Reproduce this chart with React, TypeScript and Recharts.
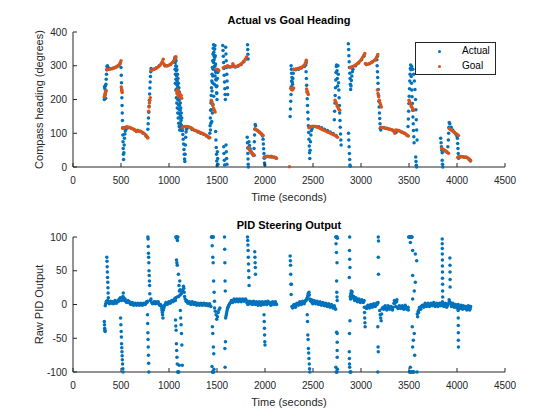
import React from 'react';
import { ScatterChart, Scatter, XAxis, YAxis } from 'recharts';

const AXIS = '#262626';
const BLUE = '#0072BD';
const ORANGE = '#D95319';

const timeTicks = [0, 500, 1000, 1500, 2000, 2500, 3000, 3500, 4000, 4500];
const headingTicks = [0, 100, 200, 300, 400];
const pidTicks = [-100, -50, 0, 50, 100];

// [time (s), heading (deg)]
const actualHeading: [number, number][] = [
  [326,200],[328,238],[330,207],[332,232],[334,214],[336,240],[338,222],[340,204],[343,245],
  [346,260],[349,275],[352,288],[355,298],[358,300],
  [370,294],[390,291],[410,292],[430,294],[450,296],[470,300],[490,306],
  [500,295],[503,272],[505,250],[507,228],[509,205],[511,182],[513,160],[515,138],[517,116],[519,95],[521,75],[523,55],[525,38],[527,22],
  [530,42],[533,65],[536,85],[540,98],[545,107],[552,112],
  [580,116],[610,114],[640,110],[670,107],[700,105],[730,100],[760,92],[775,88],
  [780,112],[783,128],[786,145],[789,162],[792,180],[795,198],[798,216],[801,234],[804,252],[807,268],[810,282],[813,292],
  [840,290],[870,294],[900,301],[930,310],[955,301],[985,300],[1015,304],[1045,312],[1060,320],
  [1062,325],[1065,310],[1068,322],[1070,300],[1073,315],[1075,285],[1078,298],[1080,270],[1083,288],[1085,255],[1088,275],[1090,240],[1093,262],[1095,228],[1098,248],[1100,212],[1103,235],[1105,198],[1108,222],[1110,182],[1113,205],[1115,168],[1118,190],[1120,152],[1123,175],[1125,138],[1128,160],[1130,124],[1133,145],[1136,115],
  [1058,318],[1063,290],[1067,275],[1072,260],[1077,245],[1082,232],[1087,218],[1092,200],[1097,185],[1102,172],[1107,158],[1112,145],[1117,130],[1122,118],[1127,108],
  [1066,248],[1071,228],[1076,205],[1081,190],[1086,175],[1091,160],[1096,145],[1101,130],[1106,120],[1111,110],
  [1140,108],[1144,96],[1148,82],[1152,68],[1156,52],[1159,38],[1162,24],[1165,16],[1168,38],[1171,65],[1174,88],[1178,104],[1183,112],
  [1210,117],[1240,111],[1270,108],[1300,104],[1330,100],[1360,97],[1390,92],[1415,87],
  [1425,100],[1428,122],[1431,145],[1434,168],[1437,190],[1440,212],[1443,235],[1446,255],[1449,275],[1452,295],[1455,315],[1458,335],[1461,352],[1464,362],[1467,340],[1470,318],[1473,298],[1476,350],[1479,360],[1482,330],[1485,305],[1488,280],[1491,258],[1494,238],[1497,218],[1500,200],
  [1432,110],[1436,130],[1440,170],[1444,195],[1448,225],[1452,250],[1456,270],[1460,290],[1464,310],[1468,330],[1472,350],[1476,325],[1480,300],[1484,285],[1488,260],[1492,240],[1496,220],[1500,240],[1504,262],[1508,280],
  [1445,135],[1452,160],[1458,185],[1466,210],[1472,245],[1480,270],[1486,105],[1489,80],[1492,58],[1495,38],[1498,18],[1501,4],[1504,45],[1507,25],[1510,8],
  [1560,360],[1563,345],[1566,328],[1569,310],[1572,292],[1575,272],[1578,252],[1581,232],[1584,215],[1587,200],[1590,355],[1593,335],[1596,315],[1599,295],[1602,275],[1605,255],[1608,235],[1611,215],
  [1570,60],[1573,40],[1576,20],[1579,6],[1594,65],[1597,45],[1600,25],[1603,8],
  [1630,296],[1660,298],[1690,296],[1720,299],[1750,304],[1780,312],[1805,320],
  [1818,362],[1820,348],[1822,334],[1824,320],[1815,88],[1817,72],[1819,56],[1821,40],[1823,24],[1825,8],[1827,0],
  [1832,75],[1838,64],[1845,54],[1855,46],[1865,40],[1875,36],[1882,34],
  [1886,55],[1889,75],[1892,95],[1895,112],[1898,126],[1902,122],
  [1920,109],[1940,104],[1960,98],[1975,92],
  [1980,82],[1983,68],[1986,54],[1989,40],[1992,26],[1995,12],[1998,6],
  [2010,30],[2040,31],[2070,30],[2100,29],[2115,27],
  [2262,150],[2265,172],[2268,195],[2271,215],[2274,238],[2277,255],[2272,300],[2275,290],[2278,278],[2281,265],[2284,252],[2287,245],[2290,262],[2294,278],[2298,290],
  [2320,288],[2350,290],[2380,293],[2410,298],[2430,310],
  [2425,302],[2428,282],[2431,262],[2434,242],[2437,222],[2440,202],[2443,182],[2446,162],[2449,142],[2452,122],[2455,102],[2458,82],[2461,62],[2464,42],[2467,25],
  [2470,50],[2474,75],[2478,95],[2483,108],[2490,114],
  [2530,120],[2560,119],[2590,116],[2620,112],[2650,108],[2680,104],[2710,99],[2740,93],
  [2722,140],[2725,165],[2728,190],[2731,212],[2734,235],[2737,258],[2740,280],[2743,298],[2746,302],[2750,285],[2753,262],[2756,240],[2760,300],[2763,275],[2766,250],[2769,228],[2772,205],[2775,182],[2778,160],[2781,138],[2784,118],[2787,98],[2790,80],[2793,65],
  [2868,365],[2871,348],[2874,330],[2877,312],[2880,295],[2883,278],[2886,262],[2889,245],[2892,230],
  [2870,100],[2873,80],[2876,60],[2879,40],[2882,22],[2885,6],[2888,2],
  [2896,240],[2900,256],[2905,270],[2910,282],[2916,290],
  [2945,300],[2975,308],[3005,318],[3030,328],[3055,304],[3085,306],[3115,311],[3145,317],[3170,328],
  [3165,318],[3168,300],[3171,282],[3174,265],[3177,248],[3180,230],[3183,212],[3186,195],[3189,178],[3192,160],[3195,144],[3198,128],[3201,115],[3206,110],
  [3240,117],[3270,115],[3300,112],[3330,109],[3365,102],[3395,108],[3425,104],[3455,100],[3480,93],
  [3490,120],[3493,142],[3496,165],[3499,188],[3502,210],[3505,232],[3508,255],[3511,275],[3514,292],[3517,302],[3520,288],[3523,268],[3526,248],[3529,228],[3532,208],[3535,188],[3538,168],[3541,148],[3544,128],[3547,108],[3550,90],[3553,72],
  [3528,298],[3540,290],[3548,275],[3556,255],[3562,230],[3568,200],[3572,170],[3576,140],[3580,110],[3584,80],
  [3570,30],[3573,16],[3576,5],[3579,0],
  [3830,85],[3834,72],[3838,60],[3842,50],[3846,42],[3846,20],[3849,8],[3852,0],
  [3870,48],[3890,45],[3905,60],[3910,80],[3913,100],[3916,118],[3919,132],[3925,128],[3940,118],[3955,110],[3970,104],[3985,98],[3998,92],
  [4004,85],[4007,70],[4010,55],[4013,40],[4016,26],
  [4040,31],[4070,30],[4100,28],[4125,22],[4140,18],
];

const goalHeading: [number, number][] = [
  [326,208],[331,213],[336,218],[341,222],[346,227],
  [352,288],[365,289],[380,290],[395,291],[410,292],[425,293],[440,295],[455,297],[470,300],[483,304],[493,309],[500,315],
  [503,237],[506,231],[509,226],[512,221],
  [518,114],[532,117],[547,118],[562,119],[577,118],[592,117],[607,115],[622,113],[637,111],[650,108],[660,105],[672,109],[687,107],[702,106],[717,104],[732,101],[747,98],[760,94],[771,90],[779,86],
  [788,165],[792,178],[796,190],[800,198],[805,205],
  [815,287],[830,288],[845,290],[860,292],[875,294],[890,297],[905,301],[918,306],[930,312],[940,319],[948,305],[962,299],[977,300],[992,301],[1007,303],[1022,306],[1037,310],[1050,315],[1062,321],[1072,327],
  [1078,225],[1084,218],[1090,228],[1096,212],[1102,222],[1108,208],[1114,216],[1120,205],[1126,212],[1132,204],
  [1140,117],[1155,119],[1170,120],[1185,120],[1200,119],[1215,118],[1230,116],[1245,113],[1260,110],[1275,108],[1290,107],[1305,105],[1320,103],[1335,101],[1350,99],[1365,97],[1380,95],[1395,92],[1410,90],[1425,87],
  [1440,198],[1448,190],[1456,182],[1464,174],[1472,168],[1480,163],
  [1495,290],[1503,289],[1511,288],[1519,286],
  [1565,294],[1580,296],[1595,298],[1610,300],[1625,298],[1640,296],[1655,298],[1665,306],[1675,300],[1690,297],[1705,298],[1720,300],[1735,302],[1750,305],[1765,309],[1780,314],[1795,320],[1808,326],
  [1828,58],[1838,52],[1848,47],[1858,43],[1868,40],[1878,37],[1888,35],
  [1895,113],[1910,110],[1925,107],[1940,104],[1955,101],[1968,97],[1980,93],
  [1992,30],[2007,31],[2022,32],[2037,31],[2052,30],[2067,32],[2082,30],[2097,29],[2110,27],[2120,26],
  [2255,1],
  [2268,233],[2276,230],[2284,228],[2292,231],[2298,234],
  [2302,289],[2316,290],[2330,291],[2344,292],[2358,293],[2372,294],[2386,296],[2400,299],[2412,303],[2422,309],[2430,316],
  [2433,231],[2439,225],[2445,220],[2451,215],
  [2458,116],[2472,119],[2487,120],[2502,121],[2517,120],[2532,119],[2547,118],[2562,116],[2577,114],[2592,112],[2607,110],[2622,108],[2637,106],[2652,104],[2667,102],[2682,100],[2697,98],[2712,96],[2727,94],[2742,91],[2755,88],
  [2730,198],[2738,192],[2746,186],[2754,180],[2762,175],[2770,171],[2778,168],
  [2886,294],[2900,296],[2915,298],[2930,300],[2945,303],[2960,306],[2975,310],[2990,314],[3005,319],[3018,325],[3030,331],[3040,336],[3046,307],[3060,304],[3075,305],[3090,307],[3105,309],[3120,312],[3135,315],[3150,319],[3163,325],[3175,333],
  [3170,228],[3177,218],[3184,208],[3191,198],[3198,190],[3205,184],[3212,178],
  [3205,118],[3220,117],[3235,116],[3250,115],[3265,114],[3280,113],[3295,112],[3310,111],[3325,110],[3340,106],[3352,100],[3362,110],[3375,109],[3390,108],[3405,106],[3420,104],[3435,102],[3450,100],[3465,98],[3480,95],[3493,92],
  [3500,198],[3508,192],[3516,186],[3524,180],[3532,176],[3540,172],[3548,168],
  [3840,55],[3852,53],[3864,51],[3876,49],[3888,46],[3900,43],[3912,41],
  [3918,114],[3932,111],[3946,108],[3960,105],[3974,102],[3988,99],[4002,96],[4015,93],
  [4008,29],[4022,31],[4036,30],[4050,31],[4064,30],[4078,29],[4092,30],[4106,28],[4120,25],[4132,22],[4142,19],
];

// [time (s), raw PID output]
const pidOutput: [number, number][] = [
  [326,-25],[328,-30],[330,-35],[332,-38],[334,-40],[336,-2],[340,1],
  [352,70],[354,64],[356,56],[358,48],[360,40],[362,33],[364,25],[366,17],[368,10],
  [355,3],[370,4],[385,3],[400,2],[415,3],[430,4],[445,3],[460,4],[475,5],[488,7],[498,9],[505,6],
  [348,5],[362,6],[378,1],[392,5],[408,4],[422,1],[438,6],[452,2],[468,6],[482,8],[493,10],[510,8],
  [496,-20],[499,-30],[502,-40],[504,-48],[506,-58],[508,-64],[510,-70],[512,-76],[514,-82],[516,-88],[519,-95],[522,-100],
  [520,12],[524,17],[528,10],
  [535,6],[550,5],[565,4],[580,3],[595,2],[610,2],[625,1],[640,0],[655,1],[670,0],[685,1],[700,0],[715,1],[730,0],[745,1],[760,2],[772,3],
  [542,8],[558,3],[572,6],[588,4],[602,0],[618,3],[632,-1],[648,2],[662,-1],[678,2],[692,-1],[708,2],[722,-1],[738,2],[752,0],[766,4],[776,5],
  [780,100],[782,97],[784,86],[786,76],[788,70],[790,62],[792,50],[794,43],[796,35],[798,28],[800,16],
  [776,-15],[778,-28],[780,-42],[782,-52],[784,-63],[786,-75],[788,-87],[790,-100],
  [805,6],[820,3],[835,2],[850,3],[865,4],[880,2],[895,1],[910,0],[922,-3],[928,-9],[933,-15],[937,-20],[942,-8],[950,-3],[960,0],[975,1],[990,2],[1005,3],[1020,4],[1035,5],[1050,6],[1062,8],
  [812,8],[828,1],[842,4],[858,1],[872,2],[888,4],[902,-1],[916,-1],[925,-6],[931,-12],[946,-5],[955,-1],[968,3],[982,0],[998,4],[1012,2],[1028,6],[1042,4],[1056,8],[1066,6],
  [1072,100],[1076,100],[1080,98],[1084,100],[1088,95],[1092,100],[1078,66],[1082,62],[1086,58],[1098,45],[1104,28],[1108,20],[1112,35],[1116,22],
  [1068,-23],[1071,-32],[1074,-38],[1077,-58],[1080,-68],[1083,-78],[1086,-88],[1090,-100],[1094,-100],[1098,-100],[1102,-100],[1106,-90],[1118,-9],[1122,-20],[1126,-30],[1130,-43],[1134,-60],[1138,-90],
  [1070,10],[1085,11],[1100,12],[1115,14],[1128,16],[1138,19],[1145,22],[1150,27],[1154,24],[1158,18],[1162,12],[1168,8],[1178,5],
  [1190,4],[1205,3],[1220,2],[1235,3],[1250,2],[1265,1],[1280,2],[1295,1],[1310,0],[1325,1],[1340,0],[1355,1],[1370,0],[1385,1],[1400,-1],[1415,0],[1430,-2],
  [1185,6],[1198,2],[1212,4],[1228,0],[1242,4],[1258,0],[1272,3],[1288,-1],[1302,2],[1318,-1],[1332,2],[1348,-1],[1362,2],[1378,-1],[1392,1],[1408,-2],[1422,1],[1436,-3],
  [1442,100],[1446,100],[1450,100],[1454,100],[1458,100],[1462,100],[1450,87],[1456,70],[1460,62],[1465,35],[1470,18],[1474,5],
  [1452,-33],[1456,-43],[1462,-63],[1466,-73],[1448,-92],[1452,-100],[1456,-100],[1460,-100],[1464,-100],[1468,-96],
  [1475,-5],[1482,-10],[1490,-15],[1497,-22],[1505,-18],[1512,-12],[1520,-8],[1530,-5],
  [1578,100],[1580,82],[1582,62],[1584,35],[1586,20],[1582,-65],[1584,-93],[1588,-55],
  [1590,-20],[1598,-14],[1606,-8],[1615,-4],[1628,0],[1642,3],[1656,5],[1670,6],[1685,6],[1700,7],[1715,6],[1730,7],[1745,6],[1760,7],[1775,6],[1790,7],[1805,6],
  [1594,-17],[1602,-11],[1610,-5],[1620,-2],[1635,2],[1650,6],[1662,3],[1678,8],[1692,4],[1708,8],[1722,4],[1738,8],[1752,4],[1768,8],[1782,5],[1798,8],[1810,4],
  [1818,100],[1820,95],[1822,88],[1824,80],[1826,70],[1828,60],[1830,50],[1832,40],[1834,28],
  [1815,2],[1830,3],[1845,1],[1860,4],[1875,2],[1890,3],
  [1893,78],[1895,70],[1897,62],[1899,55],[1901,45],
  [1905,1],[1920,2],[1935,0],[1950,2],[1965,1],[1980,2],
  [1990,-15],[1992,-25],[1994,-35],[1996,-45],[1998,-55],[2000,-60],
  [2010,1],[2025,4],[2040,2],[2055,0],[2070,2],[2085,1],[2100,2],[2115,1],
  [1822,0],[1838,5],[1852,3],[1868,0],[1882,5],[1898,0],[1912,4],[1928,-1],[1942,4],[1958,-1],[1972,4],[1986,0],[2002,4],[2018,0],[2032,5],[2048,3],[2062,-1],[2078,4],[2092,0],[2108,4],[2120,0],
  [2262,72],[2264,65],[2266,58],[2268,45],[2270,30],[2272,15],[2275,30],
  [2280,-3],[2295,-2],[2310,-1],[2325,0],[2340,1],[2355,2],[2370,2],[2385,3],[2400,3],[2415,4],[2428,6],[2440,10],[2450,16],[2458,18],[2466,8],[2478,5],
  [2288,-5],[2302,0],[2318,-4],[2332,2],[2348,-1],[2362,4],[2378,0],[2392,5],[2408,1],[2422,6],[2434,8],[2446,13],[2462,14],[2472,6],[2485,7],
  [2440,-15],[2443,-25],[2446,-45],[2449,-52],[2452,-65],[2455,-72],[2458,-80],[2461,-88],[2464,-95],[2467,-100],
  [2490,3],[2505,4],[2520,3],[2535,2],[2550,3],[2565,2],[2580,1],[2595,2],[2610,0],[2625,1],[2640,-1],[2655,0],[2670,-2],[2685,-1],[2700,-3],[2715,-4],[2728,-5],
  [2498,1],[2512,6],[2528,1],[2542,5],[2558,0],[2572,4],[2588,-1],[2602,3],[2618,-2],[2632,2],[2648,-3],[2662,1],[2678,-4],[2692,0],[2708,-5],[2722,-2],[2735,-7],
  [2738,100],[2742,100],[2746,100],[2750,100],[2754,98],[2740,90],[2744,77],[2750,62],[2746,35],[2748,18],[2750,11],[2752,6],
  [2746,-41],[2752,-43],[2752,-56],[2752,-68],[2752,-78],[2738,-93],[2742,-100],[2746,-100],[2750,-100],[2754,-96],
  [2882,100],[2880,80],[2882,67],[2885,55],[2878,40],[2885,-24],[2880,-43],[2878,-70],[2879,-80],[2880,-88],[2882,-93],[2886,-100],[2890,-100],[2894,-100],
  [2888,12],[2893,16],[2898,20],[2903,17],[2910,13],[2918,11],[2928,9],[2940,8],[2955,7],[2970,6],[2985,6],[3000,5],[3015,5],[3028,4],
  [2891,8],[2900,14],[2907,19],[2915,10],[2924,12],[2934,6],[2948,10],[2962,4],[2978,8],[2992,3],[3008,7],[3022,3],[3032,6],
  [3035,-4],[3037,-12],[3039,-20],[3041,-27],[3043,-33],
  [3050,-4],[3065,-3],[3080,-2],[3095,-3],[3110,-2],[3125,-1],[3140,-2],[3155,-1],[3168,0],
  [3058,-6],[3072,-1],[3088,-5],[3102,0],[3118,-4],[3132,1],[3148,-3],[3162,2],
  [3180,100],[3182,94],[3180,70],[3182,45],[3178,3],[3175,-33],[3178,-63],[3180,-70],[3175,-100],
  [3195,-9],[3200,-15],[3205,-20],[3210,-24],[3215,-14],[3220,-6],
  [3230,-4],[3245,-5],[3260,-6],[3275,-5],[3290,-4],[3305,-5],[3320,-6],[3335,-4],[3343,2],[3348,6],[3353,2],[3363,-3],[3378,-4],[3393,-5],[3408,-3],[3423,-4],[3438,-5],[3453,-3],[3468,-4],[3483,-6],[3493,-8],
  [3236,-7],[3252,-2],[3268,-8],[3282,-2],[3298,-7],[3312,-3],[3328,-8],[3370,4],[3374,7],[3386,-6],[3400,-2],[3416,-6],[3430,-2],[3446,-7],[3460,-1],[3476,-7],[3490,-4],
  [3497,100],[3502,100],[3507,100],[3512,100],[3517,100],[3522,100],[3527,100],[3532,100],[3514,92],[3538,80],[3566,75],[3580,65],[3538,43],[3566,33],[3555,20],[3538,8],
  [3534,-33],[3555,-43],[3545,-53],[3538,-63],[3559,-75],[3514,-93],[3504,-100],[3510,-100],[3516,-100],[3522,-100],[3528,-100],[3534,-100],[3540,-100],[3546,-100],[3552,-100],[3584,-100],
  [3586,-14],[3596,-10],[3606,-7],[3616,-5],[3630,-3],[3645,-2],[3660,-1],[3675,0],[3690,-1],[3705,0],[3720,-1],[3735,0],[3750,1],[3765,0],[3780,-1],[3795,0],[3810,-1],[3825,0],[3838,2],[3855,0],[3870,-1],[3885,0],[3900,-2],[3912,2],[3922,5],[3934,1],[3948,-1],[3962,0],[3976,-2],[3990,-3],[4004,-2],[4020,-4],[4035,-3],[4050,-5],[4065,-2],[4080,-6],[4095,-3],[4110,-7],[4125,-4],[4138,-6],
  [3590,-18],[3600,-12],[3610,-4],[3622,-7],[3638,-1],[3652,-4],[3668,2],[3682,-3],[3698,2],[3712,-3],[3728,2],[3742,-2],[3758,3],[3772,-3],[3788,2],[3802,-3],[3818,2],[3832,-2],[3848,4],[3862,-3],[3878,2],[3892,-4],[3906,0],[3918,7],[3928,3],[3942,-3],[3956,2],[3970,-4],[3984,0],[3998,-5],[4012,0],[4028,-6],[4042,-1],[4058,-7],[4072,-4],[4088,-3],[4102,-8],[4118,-2],[4132,-8],[4142,-3],
  [3846,97],[3846,90],[3847,83],[3847,75],[3848,66],[3848,57],[3849,48],[3849,39],[3850,30],[3850,20],[3851,11],
  [3926,69],[3927,58],[3927,48],[3928,37],[3928,26],
  [4012,-9],[4013,-20],[4013,-31],[4014,-42],[4014,-53],[4015,-63],
];

const toPoints = (rows: [number, number][]) => rows.map(([t, v]) => ({ t, v }));

const dot = (color: string) => (p: any) => <circle cx={p.cx} cy={p.cy} r={1.75} fill={color} />;

// MATLAB style ticks: marks point into the plot
const XTick = (props: any) => {
  const { x, y, payload } = props;
  return (
    <g>
      <line x1={x} x2={x} y1={y} y2={y - 4} stroke={AXIS} />
      <text x={x} y={y + 17} textAnchor="middle" fontSize={10} fill={AXIS}>
        {payload.value}
      </text>
    </g>
  );
};

const YTick = (props: any) => {
  const { x, y, payload } = props;
  return (
    <g>
      <line x1={x} x2={x + 4} y1={y} y2={y} stroke={AXIS} />
      <text x={x - 6} y={y + 3.5} textAnchor="end" fontSize={10} fill={AXIS}>
        {payload.value}
      </text>
    </g>
  );
};

const margin = { top: 32, right: 55, bottom: 0, left: 0 };

const titleStyle: React.CSSProperties = {
  position: 'absolute',
  left: 73,
  width: 432,
  textAlign: 'center',
  fontSize: 11,
  fontWeight: 'bold',
  lineHeight: '14px',
  color: '#000',
};

const Panel = ({ yLabel, domain, ticks, children }: any) => (
  <ScatterChart width={560} height={210} margin={margin}>
    <XAxis
      type="number"
      dataKey="t"
      domain={[0, 4500]}
      ticks={timeTicks}
      interval={0}
      tick={<XTick />}
      tickLine={false}
      tickSize={0}
      tickMargin={0}
      height={43}
      axisLine={{ stroke: AXIS }}
      label={{ value: 'Time (seconds)', position: 'insideBottom', offset: 9, fill: AXIS, fontSize: 11 }}
    />
    <YAxis
      type="number"
      dataKey="v"
      domain={domain}
      ticks={ticks}
      interval={0}
      tick={<YTick />}
      tickLine={false}
      tickSize={0}
      tickMargin={0}
      width={73}
      axisLine={{ stroke: AXIS }}
      label={{
        value: yLabel,
        angle: -90,
        position: 'insideLeft',
        offset: 39,
        fill: AXIS,
        fontSize: 11,
        style: { textAnchor: 'middle' },
      }}
    />
    {children}
  </ScatterChart>
);

const App = () => {
  return (
    <div
      style={{
        position: 'absolute',
        left: 0,
        top: 0,
        width: 560,
        height: 420,
        background: '#fff',
        fontFamily: '"Liberation Sans", Arial, sans-serif',
      }}
    >
      <div style={{ ...titleStyle, top: 13 }}>Actual vs Goal Heading</div>
      <div style={{ position: 'absolute', left: 0, top: 0 }}>
        <Panel yLabel="Compass heading (degrees)" domain={[0, 400]} ticks={headingTicks}>
          <Scatter data={toPoints(actualHeading)} fill={BLUE} shape={dot(BLUE)} isAnimationActive={false} />
          <Scatter data={toPoints(goalHeading)} fill={ORANGE} shape={dot(ORANGE)} isAnimationActive={false} />
        </Panel>
      </div>
      <div
        style={{
          position: 'absolute',
          left: 415,
          top: 42,
          width: 79,
          height: 31,
          border: `1px solid ${AXIS}`,
          background: '#fff',
          fontSize: 10,
          color: '#000',
        }}
      >
        <span style={{ position: 'absolute', left: 22, top: 7, width: 3.2, height: 3.2, borderRadius: '50%', background: BLUE }} />
        <span style={{ position: 'absolute', left: 46, top: 2, lineHeight: '12px' }}>Actual</span>
        <span style={{ position: 'absolute', left: 22, top: 21.5, width: 3.2, height: 3.2, borderRadius: '50%', background: ORANGE }} />
        <span style={{ position: 'absolute', left: 46, top: 16.5, lineHeight: '12px' }}>Goal</span>
      </div>
      <div style={{ ...titleStyle, top: 218 }}>PID Steering Output</div>
      <div style={{ position: 'absolute', left: 0, top: 205 }}>
        <Panel yLabel="Raw PID Output" domain={[-100, 100]} ticks={pidTicks}>
          <Scatter data={toPoints(pidOutput)} fill={BLUE} shape={dot(BLUE)} isAnimationActive={false} />
        </Panel>
      </div>
    </div>
  );
};

export default App;
